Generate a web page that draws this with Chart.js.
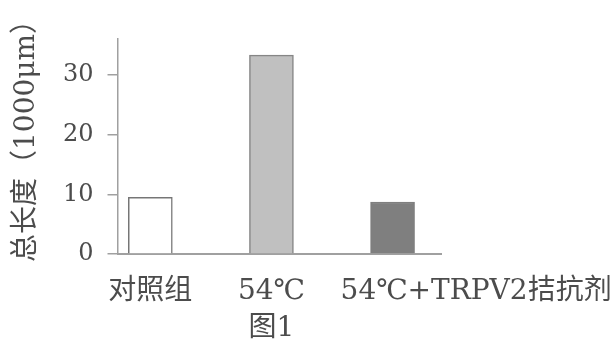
<!DOCTYPE html>
<html>
<head>
<meta charset="utf-8">
<script src="https://cdn.jsdelivr.net/npm/chart.js@4/dist/chart.umd.min.js"></script>
<style>
  html, body { margin: 0; padding: 0; background: #ffffff; }
  #wrap { width: 614px; height: 347px; }
</style>
</head>
<body>
<div id="wrap"><canvas id="chart" width="614" height="347"></canvas></div>
<script>
// Total length per group, in units of 1000 μm
const categories = ['对照组', '54℃', '54℃+TRPV2拮抗剂'];
const totalLength = [9.5, 33.3, 8.7];
const yTickStep = 5;
const yAxisMax = 36;
const yAxisTitle = '总长度（1000μm）';
const caption = '图1';

// Bar styling, one entry per group
const barFills = ['#ffffff', '#c0c0c0', '#7f7f7f'];
const barEdges = ['#767676', '#868686', '#7f7f7f'];

const textColor = '#4c4c4c';
const axisColor = '#a0a0a0';
const latinCjk = "'DejaVu Serif', 'Noto Sans CJK SC', serif";

// The long third label sits a little to the right of its bar
const lastLabelShift = 0.69;

// Writes the vertical axis title and the figure caption under the middle group
const textPlugin = {
  id: 'figureText',
  afterDraw(chart) {
    const { ctx, scales } = chart;
    ctx.save();
    ctx.font = "28px " + latinCjk;
    ctx.fillStyle = textColor;
    ctx.textAlign = 'center';
    ctx.textBaseline = 'middle';
    ctx.fillText(caption, scales.x.getPixelForValue(1), 329);

    ctx.translate(27, 134);
    ctx.rotate(-Math.PI / 2);
    ctx.fillText(yAxisTitle, 0, 0);
    ctx.restore();
  }
};

new Chart(document.getElementById('chart'), {
  type: 'bar',
  data: {
    datasets: [{
      data: categories.map((c, i) => ({ x: i, y: totalLength[i] })),
      backgroundColor: barFills,
      borderColor: barEdges,
      borderWidth: 1.5,
      barThickness: 44
    }]
  },
  options: {
    responsive: false,
    animation: false,
    events: [],
    layout: { padding: 0 },
    plugins: {
      legend: { display: false },
      tooltip: { enabled: false },
      title: { display: false }
    },
    scales: {
      x: {
        type: 'linear',
        min: -0.271,
        max: 2.4,
        offset: false,
        grid: { display: false, offset: false },
        border: { display: true, color: axisColor, width: 2 },
        afterBuildTicks(scale) {
          scale.ticks = categories.map((c, i) => ({
            value: i === categories.length - 1 ? i + lastLabelShift : i
          }));
        },
        afterFit(scale) {
          scale.height = 93;
          scale.paddingLeft = 0;
          scale.paddingRight = 173;
        },
        ticks: {
          autoSkip: false,
          maxRotation: 0,
          minRotation: 0,
          padding: 13,
          color: textColor,
          font: { family: latinCjk, size: 28 },
          callback: (value, index) => categories[index]
        }
      },
      y: {
        min: 0,
        max: yAxisMax,
        afterFit(scale) {
          scale.width = 117.5;
          scale.paddingTop = 39;
          scale.paddingBottom = 0;
        },
        grid: {
          drawOnChartArea: false,
          drawTicks: true,
          tickLength: 10,
          color: axisColor,
          lineWidth: 1.5
        },
        border: { display: true, color: axisColor, width: 1.5 },
        ticks: {
          stepSize: yTickStep,
          includeBounds: false,
          padding: 14,
          color: textColor,
          font: { family: "'DejaVu Serif', serif", size: 24 },
          callback: (v) => (v % 10 === 0 ? String(v) : '')
        }
      }
    }
  },
  plugins: [textPlugin]
});
</script>
</body>
</html>
